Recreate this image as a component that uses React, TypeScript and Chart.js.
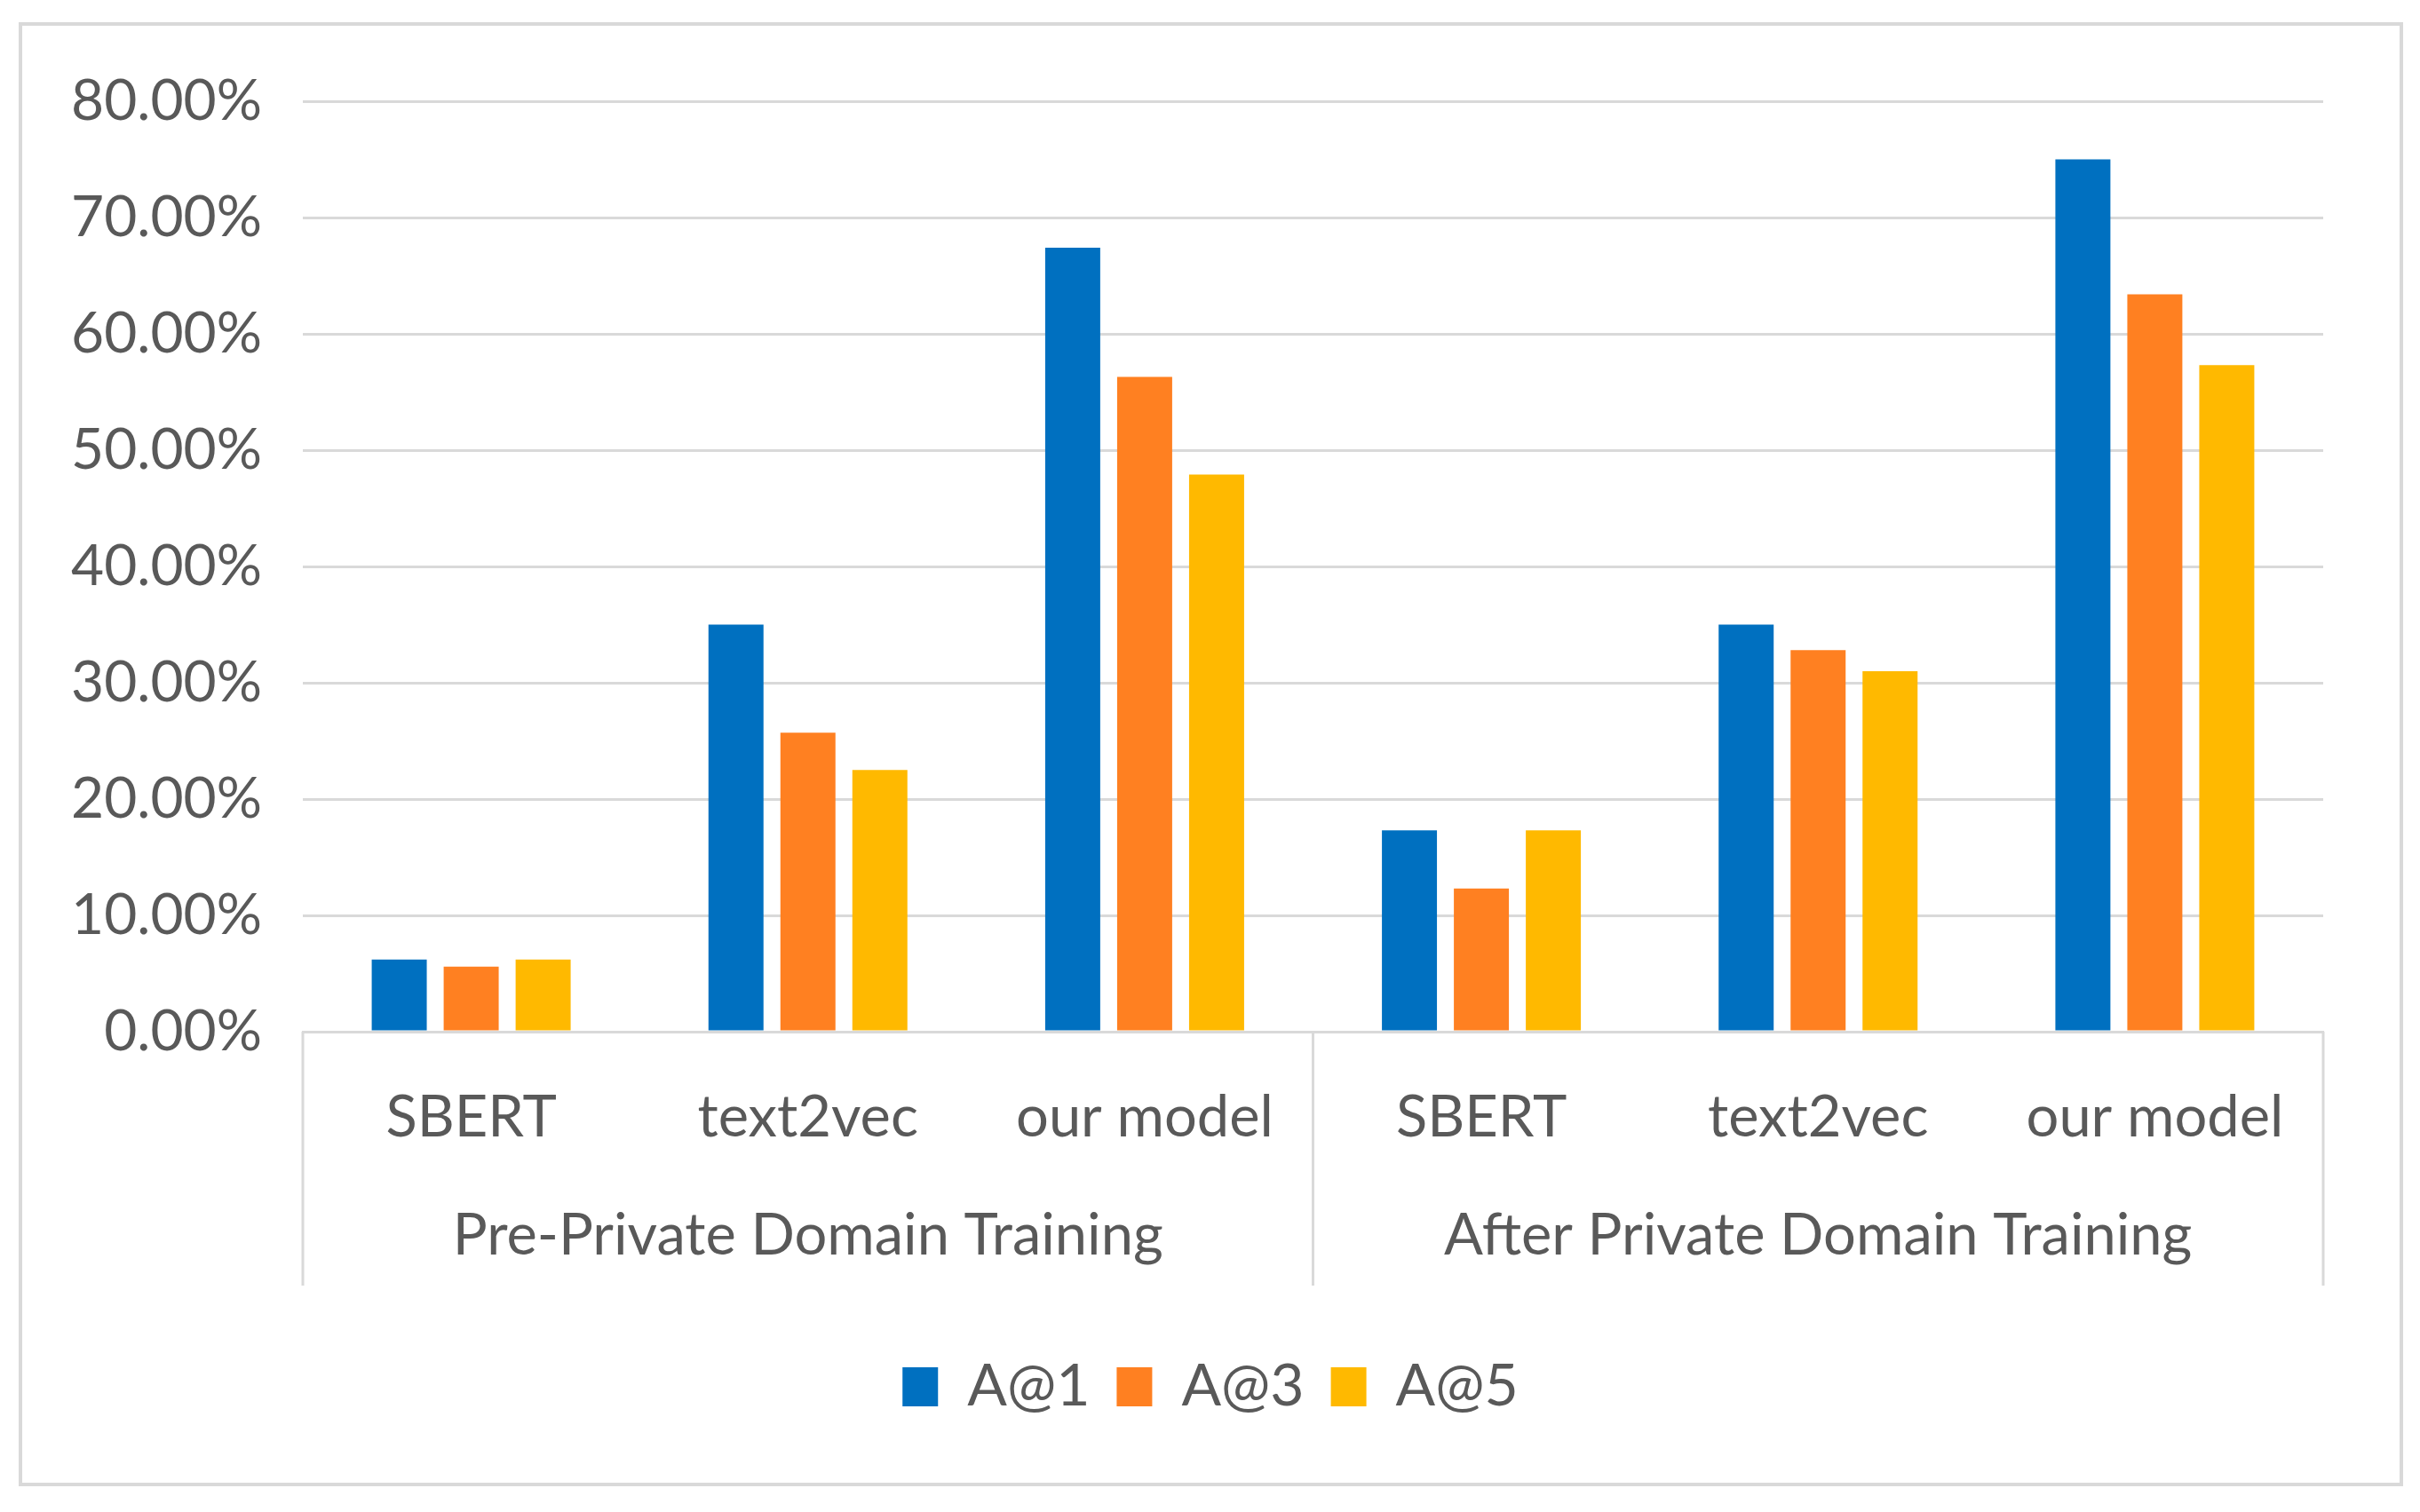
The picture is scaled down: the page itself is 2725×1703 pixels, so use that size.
import React, { useEffect, useRef } from 'react';
import { Chart, registerables } from 'chart.js';

Chart.register(...registerables);

const categories = ['SBERT', 'text2vec', 'our model', 'SBERT', 'text2vec', 'our model'];
const groups = ['Pre-Private Domain Training', 'After Private Domain Training'];
const seriesNames = ['A@1', 'A@3', 'A@5'];
const seriesA1 = [6.2, 35.0, 67.4, 17.3, 35.0, 75.0];
const seriesA3 = [5.6, 25.7, 56.3, 12.3, 32.8, 63.4];
const seriesA5 = [6.2, 22.5, 47.9, 17.3, 31.0, 57.3];
const seriesColors = ['#0070C0', '#FF8021', '#FFB900'];
const yMin = 0;
const yMax = 80;
const yStep = 10;

const FONT = 'Lato';
const TEXT = '#595959';
const GRID = '#d9d9d9';

const boxLines = {
  id: 'boxLines',
  afterDraw(chart: any) {
    const { ctx, chartArea } = chart;
    const x = chart.scales.x;
    const bottom = x.bottom + 100;
    const mid = (x.getPixelForValue(2) + x.getPixelForValue(3)) / 2;
    ctx.save();
    ctx.strokeStyle = GRID;
    ctx.lineWidth = 3;
    [chartArea.left, mid, chartArea.right].forEach((px: number) => {
      ctx.beginPath();
      ctx.moveTo(px, chartArea.bottom);
      ctx.lineTo(px, bottom);
      ctx.stroke();
    });
    ctx.restore();
  },
};

export default function App() {
  const ref = useRef<HTMLCanvasElement | null>(null);

  useEffect(() => {
    document.body.style.margin = '0';
    const canvas = ref.current;
    if (!canvas) return;
    const data = [seriesA1, seriesA3, seriesA5];
    const chart = new Chart(canvas, {
      type: 'bar',
      data: {
        labels: categories,
        datasets: seriesNames.map((name, i) => ({
          label: name,
          data: data[i],
          backgroundColor: seriesColors[i],
          borderWidth: 0,
          categoryPercentage: 0.641,
          barPercentage: 0.765,
          xAxisID: 'x',
          yAxisID: 'y',
        })),
      },
      options: {
        responsive: false,
        animation: false,
        devicePixelRatio: 1,
        layout: { padding: { top: 114, left: 30, right: 29, bottom: 98 } },
        plugins: {
          tooltip: { enabled: false },
          legend: {
            position: 'bottom',
            labels: {
              font: { family: FONT, size: 66 },
              color: TEXT,
              boxWidth: 40,
              boxHeight: 44,
              padding: 30,
            },
          },
        },
        scales: {
          y: {
            min: yMin,
            max: yMax,
            ticks: {
              stepSize: yStep,
              padding: 46,
              color: TEXT,
              font: { family: FONT, size: 64 },
              callback: (v: any) => Number(v).toFixed(2) + '%',
            },
            grid: { color: GRID, lineWidth: 3, drawTicks: false },
            border: { display: false },
            afterFit: (s: any) => { s.width = 311; },
          },
          yRight: {
            type: 'linear',
            position: 'right',
            display: true,
            ticks: { display: false },
            grid: { display: false, drawTicks: false },
            border: { display: false },
            afterFit: (s: any) => { s.width = 80; },
          },
          x: {
            type: 'category',
            position: 'bottom',
            weight: 0,
            offset: true,
            ticks: {
              padding: 58,
              color: TEXT,
              font: { family: FONT, size: 65 },
              maxRotation: 0,
              autoSkip: false,
            },
            grid: { display: false, drawTicks: false },
            border: { display: true, color: GRID, width: 3 },
            afterFit: (s: any) => { s.height = 186; },
          },
          x2: {
            type: 'category',
            position: 'bottom',
            weight: 1,
            labels: groups,
            offset: true,
            ticks: {
              padding: 5,
              color: TEXT,
              font: { family: FONT, size: 65 },
              maxRotation: 0,
              autoSkip: false,
            },
            grid: { display: false, drawTicks: false },
            border: { display: false },
            afterFit: (s: any) => { s.height = 151; },
          },
        },
      } as any,
      plugins: [boxLines],
    });
    return () => chart.destroy();
  }, []);

  return (
    <div style={{ position: 'absolute', left: 0, top: 0, width: 2725, height: 1703, background: '#fff' }}>
      <div
        style={{
          position: 'absolute',
          left: 21,
          top: 25,
          width: 2685,
          height: 1649,
          boxSizing: 'border-box',
          border: '4px solid #d9d9d9',
          pointerEvents: 'none',
        }}
      />
      <canvas ref={ref} width={2725} height={1703} style={{ position: 'absolute', left: 0, top: 0, width: 2725, height: 1703 }} />
    </div>
  );
}
